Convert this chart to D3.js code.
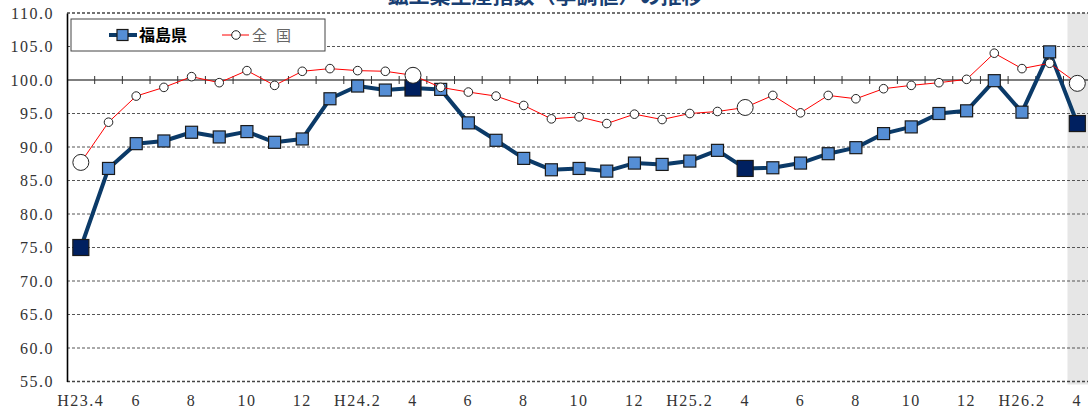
<!DOCTYPE html>
<html lang="ja">
<head>
<meta charset="UTF-8">
<title>鉱工業生産指数の推移</title>
<script src="https://d3js.org/d3.v7.min.js"></script>
<style>
body { margin: 0; background: #fff; }
svg { display: block; }
.axis text { font-family: "Liberation Serif", serif; font-size: 16px; fill: #333; letter-spacing: 1.5px; }
.grid line { stroke: #555; stroke-width: 1; stroke-dasharray: 3,2; }
</style>
</head>
<body>
<svg width="1088" height="415"></svg>
<script>
// months H23.4 - H26.4
const categories = [
  "H23.4","H23.5","H23.6","H23.7","H23.8","H23.9","H23.10","H23.11","H23.12",
  "H24.1","H24.2","H24.3","H24.4","H24.5","H24.6","H24.7","H24.8","H24.9","H24.10","H24.11","H24.12",
  "H25.1","H25.2","H25.3","H25.4","H25.5","H25.6","H25.7","H25.8","H25.9","H25.10","H25.11","H25.12",
  "H26.1","H26.2","H26.3","H26.4"
];
// every other month is labelled
const tickLabels = ["H23.4","6","8","10","12","H24.2","4","6","8","10","12","H25.2","4","6","8","10","12","H26.2","4"];
const fukushima = [75.0,86.8,90.5,90.9,92.2,91.5,92.3,90.7,91.2,97.2,99.1,98.5,98.8,98.6,93.6,91.0,88.3,86.6,86.8,86.4,87.6,87.4,87.9,89.5,86.8,86.9,87.6,89.0,89.9,92.0,93.0,95.0,95.4,99.9,95.2,104.2,93.5];
const national = [87.7,93.7,97.6,98.9,100.5,99.6,101.4,99.2,101.3,101.7,101.4,101.3,100.7,98.9,98.2,97.6,96.2,94.2,94.5,93.5,94.9,94.1,95.0,95.3,95.9,97.7,95.1,97.7,97.2,98.7,99.2,99.6,100.1,104.0,101.7,102.5,99.5];
const highlight = ["H23.4","H24.4","H25.4","H26.4"];
const yTicks = [55,60,65,70,75,80,85,90,95,100,105,110];

const svg = d3.select("svg");
const pLeft = 67, pRight = 1088, pTop = 13, pBottom = 381.5;

const x = d3.scaleBand().domain(categories).range([pLeft, pLeft + 37 * 27.68]).padding(0);
const cx = d => x(d) + x.bandwidth() / 2;
const y = d3.scaleLinear().domain([55, 110]).range([pBottom, pTop]);

// title (cut off at top)
svg.append("text")
   .attr("x", 545).attr("y", 3)
   .attr("text-anchor", "middle")
   .style("font-family", "'Noto Sans CJK JP', sans-serif")
   .style("font-weight", "bold")
   .style("font-size", "21px")
   .style("fill", "#1a3f73")
   .text("鉱工業生産指数（季調値）の推移");

// last month shading
const last = categories[categories.length - 1];
svg.append("rect")
   .attr("x", x(last) + 4).attr("y", pTop)
   .attr("width", pRight - x(last) - 4).attr("height", pBottom - pTop + 3)
   .attr("fill", "#e6e6e6");

// gridlines
svg.append("g").attr("class", "grid")
   .selectAll("line")
   .data(yTicks.filter(v => v !== 100))
   .enter().append("line")
   .attr("x1", pLeft).attr("x2", pRight)
   .attr("y1", d => y(d)).attr("y2", d => y(d))
   .style("stroke", d => (d === 55 || d === 110) ? "#444" : "#555")
   .style("stroke-width", d => (d === 55 || d === 110) ? 1.6 : 1);

// 100 line with category ticks
svg.append("line")
   .attr("x1", pLeft).attr("x2", pRight)
   .attr("y1", y(100)).attr("y2", y(100))
   .attr("stroke", "#000").attr("stroke-width", 1.2);
svg.append("g").selectAll("line")
   .data(categories.slice(1))
   .enter().append("line")
   .attr("x1", d => x(d)).attr("x2", d => x(d))
   .attr("y1", y(100) - 4).attr("y2", y(100) + 4)
   .attr("stroke", "#333").attr("stroke-width", 1);

// y axis
const yAxis = svg.append("g").attr("class", "axis")
   .attr("transform", `translate(${pLeft},0)`)
   .call(d3.axisLeft(y).tickValues(yTicks).tickFormat(d3.format(".1f")).tickSize(0).tickPadding(13));
yAxis.select(".domain").attr("stroke", "#000").attr("stroke-width", 1.6);

// x axis labels
const labelled = categories.filter((d, i) => i % 2 === 0);
const xAxis = svg.append("g").attr("class", "axis")
   .attr("transform", `translate(0,${pBottom})`)
   .call(d3.axisBottom(x).tickValues(labelled)
     .tickFormat(d => tickLabels[labelled.indexOf(d)]).tickSize(0).tickPadding(13));
xAxis.select(".domain").remove();

// Fukushima series
const line = d3.line().x((d, i) => cx(categories[i])).y(d => y(d));
svg.append("path").datum(fukushima)
   .attr("d", line).attr("fill", "none")
   .attr("stroke", "#0b3a68").attr("stroke-width", 4).attr("stroke-linejoin", "round");
svg.append("g").selectAll("rect")
   .data(fukushima)
   .enter().append("rect")
   .each(function(d, i) {
     const big = highlight.includes(categories[i]);
     const s = big ? 16 : 12;
     d3.select(this)
       .attr("x", cx(categories[i]) - s / 2).attr("y", y(d) - s / 2)
       .attr("width", s).attr("height", s)
       .attr("fill", big ? "#002060" : "#558ed5")
       .attr("stroke", "#1a1a1a").attr("stroke-width", 1.2);
   });

// national series
svg.append("path").datum(national)
   .attr("d", line).attr("fill", "none")
   .attr("stroke", "#ff0000").attr("stroke-width", 1);
svg.append("g").selectAll("circle")
   .data(national)
   .enter().append("circle")
   .attr("cx", (d, i) => cx(categories[i]))
   .attr("cy", d => y(d))
   .attr("r", (d, i) => highlight.includes(categories[i]) ? 8 : 4.3)
   .attr("fill", "#fff").attr("stroke", "#222").attr("stroke-width", 1);

// legend
const lg = svg.append("g");
lg.append("rect").attr("x", 71).attr("y", 19).attr("width", 254).attr("height", 32)
  .attr("fill", "#fff").attr("stroke", "#444").attr("stroke-width", 1);
lg.append("line").attr("x1", 109).attr("x2", 137).attr("y1", 35).attr("y2", 35)
  .attr("stroke", "#0b3a68").attr("stroke-width", 4);
lg.append("rect").attr("x", 117).attr("y", 29.5).attr("width", 11).attr("height", 11)
  .attr("fill", "#558ed5").attr("stroke", "#1a1a1a").attr("stroke-width", 1.2);
lg.append("text").attr("x", 139).attr("y", 41)
  .style("font-family", "'Noto Sans CJK JP', sans-serif").style("font-weight", "bold")
  .style("font-size", "16px").style("fill", "#000").text("福島県");
lg.append("line").attr("x1", 222).attr("x2", 249).attr("y1", 35).attr("y2", 35)
  .attr("stroke", "#ff0000").attr("stroke-width", 1);
lg.append("circle").attr("cx", 236).attr("cy", 35).attr("r", 4.3)
  .attr("fill", "#fff").attr("stroke", "#222").attr("stroke-width", 1);
lg.append("text").attr("x", 252).attr("y", 41)
  .style("font-family", "'Noto Sans CJK JP', sans-serif")
  .style("font-size", "15px").style("fill", "#666").style("letter-spacing", "9px")
  .text("全国");
</script>
</body>
</html>
